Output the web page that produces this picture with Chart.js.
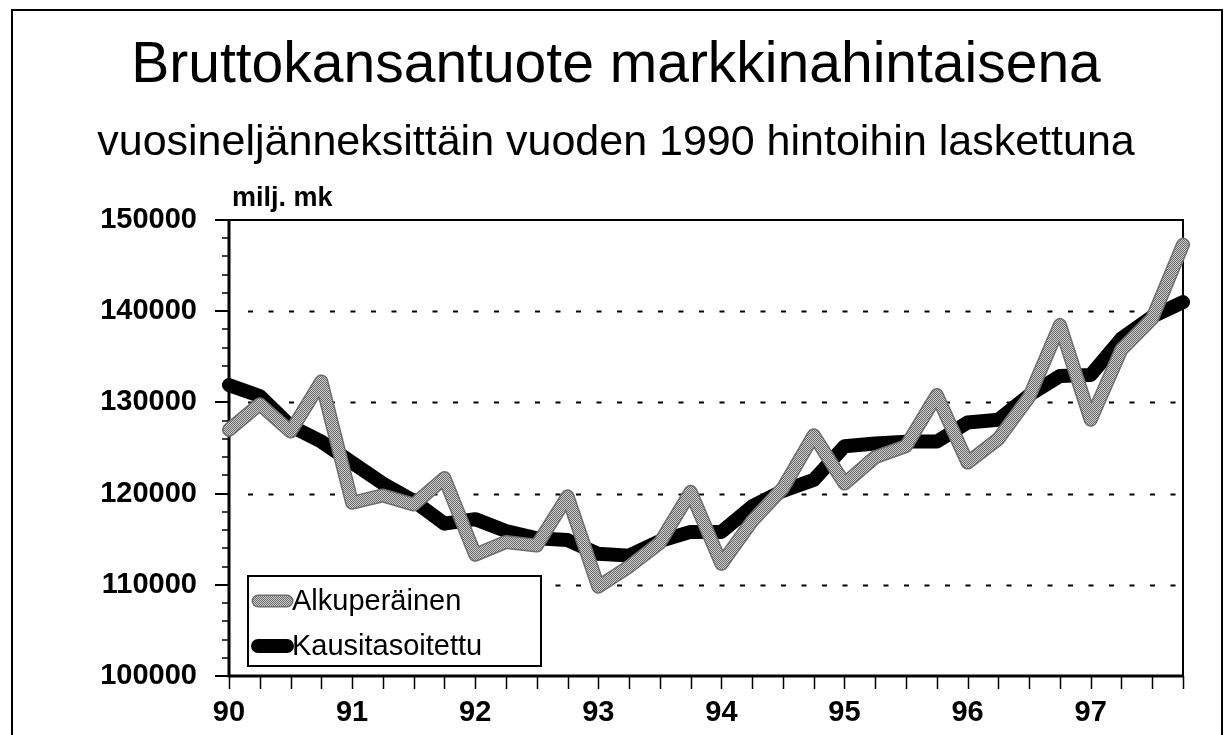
<!DOCTYPE html>
<html>
<head>
<meta charset="utf-8">
<script src="https://cdn.jsdelivr.net/npm/chart.js@4/dist/chart.umd.min.js"></script>
<style>
html,body{margin:0;padding:0;background:#fff;}
#wrap{width:1230px;height:735px;}
</style>
</head>
<body>
<div id="wrap"><canvas id="c" width="1230" height="735"></canvas></div>
<script>
// ---- data ----
const quarters = [
  '1990 I','1990 II','1990 III','1990 IV',
  '1991 I','1991 II','1991 III','1991 IV',
  '1992 I','1992 II','1992 III','1992 IV',
  '1993 I','1993 II','1993 III','1993 IV',
  '1994 I','1994 II','1994 III','1994 IV',
  '1995 I','1995 II','1995 III','1995 IV',
  '1996 I','1996 II','1996 III','1996 IV',
  '1997 I','1997 II','1997 III','1997 IV'
];
const yearLabels = ['90','91','92','93','94','95','96','97'];
const alkuperainen = [
  127000,129800,126800,132300,
  119000,119800,118800,121700,
  113300,114700,114300,119700,
  109800,112000,114600,120200,
  112300,117000,120600,126400,
  121100,124000,125200,130800,
  123400,126000,130600,138500,
  128100,135800,139200,147300
];
const kausitasoitettu = [
  131900,130700,127400,125700,
  123400,121100,119200,116700,
  117200,115900,115100,114900,
  113400,113200,114800,115800,
  115800,118600,120300,121500,
  125200,125500,125700,125700,
  127800,128100,130800,132900,
  133000,137000,139400,141000
];
const seriesNames = ['Alkuperäinen','Kausitasoitettu'];
const titleText = 'Bruttokansantuote markkinahintaisena';
const subtitleText = 'vuosineljänneksittäin vuoden 1990 hintoihin laskettuna';
const unitText = 'milj. mk';
const yMin = 100000, yMax = 150000, yMajor = 10000, yMinor = 2000;

// ---- styles ----
const FONT = '"Liberation Sans", Arial, Helvetica, sans-serif';
const canvas = document.getElementById('c');
const ctx0 = canvas.getContext('2d');
function makePattern(){
  const c = document.createElement('canvas'); c.width = 4; c.height = 4;
  const g = c.getContext('2d');
  g.fillStyle = '#cdcdcd'; g.fillRect(0,0,4,4);
  g.fillStyle = '#6a6a6a';
  for (let y=0;y<4;y++) for (let x=0;x<4;x++) if ((x+y)%2===0) g.fillRect(x,y,1,1);
  return ctx0.createPattern(c,'repeat');
}
const grayPattern = makePattern();
const GRAY_OUTLINE = '#6e6e6e';

function strokeOutline(ctx, pts, width){
  ctx.save();
  ctx.lineJoin = 'round'; ctx.lineCap = 'round';
  ctx.strokeStyle = GRAY_OUTLINE; ctx.lineWidth = width;
  ctx.beginPath();
  pts.forEach((p,i)=>{ if(i===0) ctx.moveTo(p.x,p.y); else ctx.lineTo(p.x,p.y); });
  ctx.stroke();
  ctx.restore();
}

const decor = {
  id: 'decor',
  beforeDraw(chart){
    const ctx = chart.ctx;
    ctx.save();
    ctx.fillStyle = '#fff'; ctx.fillRect(0,0,chart.width,chart.height);
    // outer frame
    ctx.strokeStyle = '#000'; ctx.lineWidth = 2;
    ctx.strokeRect(12,10,1210,760);
    // titles
    ctx.fillStyle = '#000'; ctx.textAlign = 'center'; ctx.textBaseline = 'alphabetic';
    ctx.font = '57px ' + FONT;
    ctx.fillText(titleText, 616, 82);
    ctx.font = '43px ' + FONT;
    ctx.fillText(subtitleText, 616, 155);
    ctx.textAlign = 'left';
    ctx.font = 'bold 27px ' + FONT;
    ctx.fillText(unitText, 232, 206);
    ctx.restore();
  },
  beforeDatasetsDraw(chart){
    const ctx = chart.ctx, a = chart.chartArea;
    const ys = chart.scales.y, xs = chart.scales.x;
    ctx.save();
    // dotted grid lines
    ctx.strokeStyle = '#000'; ctx.lineWidth = 2;
    ctx.setLineDash([5,15.5]);
    for (let v = yMin + yMajor; v < yMax; v += yMajor){
      const y = Math.round(ys.getPixelForValue(v)) + 0.5;
      ctx.beginPath(); ctx.moveTo(a.left+19, y); ctx.lineTo(a.right, y); ctx.stroke();
    }
    ctx.setLineDash([]);
    // top & right frame
    ctx.lineWidth = 2;
    ctx.beginPath(); ctx.moveTo(a.left, a.top); ctx.lineTo(a.right, a.top); ctx.lineTo(a.right, a.bottom); ctx.stroke();
    // y tick marks
    for (let v = yMin; v <= yMax; v += yMinor){
      const y = Math.round(ys.getPixelForValue(v));
      const major = (v % yMajor) === 0;
      ctx.lineWidth = major ? 2 : 1.5;
      ctx.beginPath(); ctx.moveTo(a.left - (major ? 14 : 7), y); ctx.lineTo(a.left, y); ctx.stroke();
    }
    // x tick marks
    ctx.lineWidth = 1.5;
    for (let i = 0; i < quarters.length; i++){
      const x = Math.round(xs.getPixelForValue(i)) + 0.5;
      ctx.beginPath(); ctx.moveTo(x, a.bottom); ctx.lineTo(x, a.bottom + 13); ctx.stroke();
    }
    // axes
    ctx.lineWidth = 3;
    ctx.beginPath(); ctx.moveTo(a.left, a.top - 1); ctx.lineTo(a.left, a.bottom); ctx.lineTo(a.right + 1, a.bottom); ctx.stroke();
    ctx.restore();
  },
  beforeDatasetDraw(chart, args){
    if (args.index !== 0) return;
    const meta = chart.getDatasetMeta(0);
    const ctx = chart.ctx, a = chart.chartArea;
    ctx.save();
    ctx.beginPath(); ctx.rect(a.left - 8, a.top - 8, a.width + 16, a.height + 16); ctx.clip();
    strokeOutline(ctx, meta.data.map(p=>({x:p.x,y:p.y})), 14);
    ctx.restore();
  },
  afterDraw(chart){
    const ctx = chart.ctx;
    const ds = chart.data.datasets;
    ctx.save();
    // legend box
    ctx.fillStyle = '#fff';
    ctx.fillRect(248,576,293,90);
    ctx.strokeStyle = '#000'; ctx.lineWidth = 2;
    ctx.strokeRect(248,576,293,90);
    const rows = [{y:601, base:610}, {y:646, base:655}];
    rows.forEach((r,i)=>{
      const d = ds[i];
      ctx.lineCap = 'round';
      if (i === 0){
        strokeOutline(ctx, [{x:258,y:r.y},{x:287,y:r.y}], 13);
        ctx.strokeStyle = d.borderColor; ctx.lineWidth = 10;
      } else {
        ctx.strokeStyle = d.borderColor; ctx.lineWidth = 14;
      }
      ctx.beginPath(); ctx.moveTo(258, r.y); ctx.lineTo(287, r.y); ctx.stroke();
      ctx.fillStyle = '#000'; ctx.font = '29px ' + FONT;
      ctx.textAlign = 'left'; ctx.textBaseline = 'alphabetic';
      ctx.fillText(d.label, 292, r.base);
    });
    ctx.restore();
  }
};

new Chart(canvas, {
  type: 'line',
  data: {
    labels: quarters,
    datasets: [
      { label: seriesNames[0], data: alkuperainen, borderColor: grayPattern, borderWidth: 11,
        pointRadius: 0, tension: 0, borderJoinStyle: 'round', borderCapStyle: 'round', fill: false },
      { label: seriesNames[1], data: kausitasoitettu, borderColor: '#000', borderWidth: 14,
        pointRadius: 0, tension: 0, borderJoinStyle: 'round', borderCapStyle: 'round', fill: false }
    ]
  },
  options: {
    responsive: false, animation: false, devicePixelRatio: 1,
    layout: { padding: { top: 220, right: 47, bottom: 0, left: 0 } },
    plugins: { legend: { display: false }, title: { display: false }, tooltip: { enabled: false } },
    events: [],
    scales: {
      x: {
        type: 'category', offset: false,
        grid: { display: false, drawTicks: false }, border: { display: false },
        ticks: {
          autoSkip: false, maxRotation: 0, minRotation: 0, padding: 20, color: '#000',
          font: { family: FONT, size: 29, weight: 'bold' },
          callback: (v, i) => (i % 4 === 0 ? yearLabels[i / 4] : '')
        },
        afterFit: s => { s.height = 59; }
      },
      y: {
        min: yMin, max: yMax,
        grid: { display: false, drawTicks: false }, border: { display: false },
        ticks: { stepSize: yMajor, padding: 32, color: '#000', font: { family: FONT, size: 29, weight: 'bold' },
                 callback: v => String(v) },
        afterFit: s => { s.width = 229; }
      }
    }
  },
  plugins: [decor]
});
</script>
</body>
</html>
